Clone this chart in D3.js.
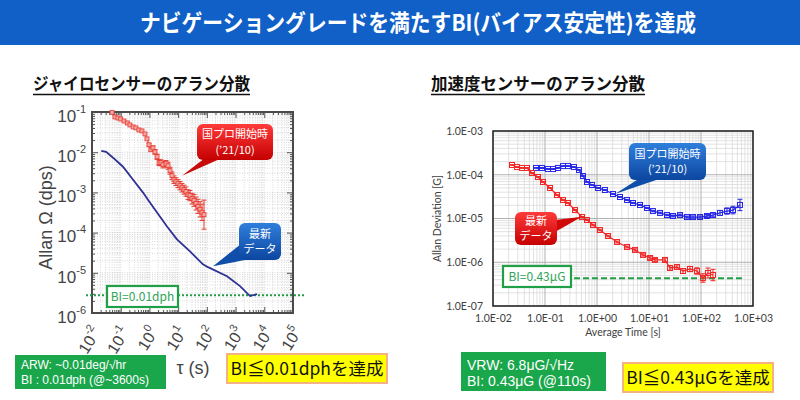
<!DOCTYPE html>
<html><head><meta charset="utf-8">
<script src="https://cdn.jsdelivr.net/npm/d3@7"></script>
<style>
body{margin:0;background:#fff;}
svg{display:block;font-family:"Noto Sans CJK JP","Noto Sans",sans-serif;}
</style></head>
<body><svg id="c" width="800" height="400"></svg>
<script>
// ---------------- DATA ----------------
const headerTitle = "ナビゲーショングレードを満たすBI(バイアス安定性)を達成";
const gyroTitle = "ジャイロセンサーのアラン分散";
const accTitle = "加速度センサーのアラン分散";

// Gyro: latest data (blue line)
const gyroLatestTau = [0.021,0.031,0.054,0.12,0.27,0.60,0.89,1.84,4.1,9.1,25.9,73,110,504,1430,3190,5580];
const gyroLatestVal = [1.08e-2,1.02e-2,7.3e-3,4.35e-3,2.07e-3,9.9e-4,6.6e-4,3.16e-4,1.42e-4,6.8e-5,3.4e-5,1.63e-5,1.38e-5,8.2e-6,4.66e-6,2.64e-6,2.95e-6];
// Gyro: project start '21/10 (red markers)
const gyroStartTau = [0.050,0.063,0.080,0.10,0.13,0.17,0.21,0.27,0.34,0.43,0.55,0.70,0.82,0.97,1.13,1.33,1.56,1.84,2.16,2.53,2.97,3.78,4.44,5.21,6.11,7.18,8.43,9.89,11.6,13.6,16.0,18.8,22.1,25.9,30.4,35.7,41.9,49.2,57.8,67.8,79.6];
const gyroStartVal = [0.098,0.0752,0.0710,0.0671,0.0598,0.0534,0.0477,0.0425,0.0402,0.0358,0.0339,0.0285,0.0215,0.0153,0.0115,0.0128,0.0102,0.0077,0.00547,0.00547,0.00488,0.00516,0.00461,0.00347,0.00261,0.00207,0.00185,0.00165,0.00147,0.00131,0.00117,0.00105,0.00088,0.00083,0.00070,0.00063,0.00053,0.00045,0.00038,0.00032,0.00028];
const gyroStartErr = [0.02,0.02,0.02,0.02,0.02,0.02,0.02,0.03,0.03,0.03,0.03,0.04,0.05,0.08,0.10,0.12,0.14,0.16,0.18,0.18,0.20,0.20,0.22,0.22,0.24,0.24,0.25,0.26,0.27,0.28,0.29,0.30,0.32,0.34,0.36,0.40,0.45,0.50,0.55,0.60,1.30];
const gyroBI = 2.78e-6;   // 0.01 dph in dps

// Accelerometer: latest data (red)
const accLatestTau = [0.0232,0.0290,0.0361,0.0451,0.0562,0.0733,0.0916,0.125,0.170,0.222,0.277,0.378,0.515,0.643,0.838,1.14,1.63,2.43,3.78,5.38,7.67,10.5,13.0,20.3,25.3,34.5,45.1,61.4,83.8,109,136,170];
const accLatestVal = [1.67e-4,1.50e-4,1.43e-4,1.43e-4,1.10e-4,8.89e-5,6.83e-5,4.98e-5,3.44e-5,2.65e-5,2.26e-5,1.56e-5,1.08e-5,9.24e-6,7.10e-6,5.46e-6,3.98e-6,2.90e-6,2.23e-6,1.91e-6,1.47e-6,1.25e-6,1.13e-6,1.13e-6,7.39e-7,7.78e-7,6.31e-7,7.01e-7,6.31e-7,4.37e-7,5.68e-7,5.11e-7];
const accLatestErr = [0.02,0.02,0.02,0.02,0.02,0.02,0.02,0.02,0.02,0.03,0.03,0.03,0.03,0.03,0.04,0.04,0.04,0.05,0.05,0.06,0.06,0.07,0.08,0.10,0.12,0.12,0.14,0.15,0.18,0.25,0.30,0.35];
// Accelerometer: project start '21/10 (blue)
const accStartTau = [0.0671,0.0875,0.114,0.143,0.178,0.222,0.277,0.361,0.451,0.538,0.643,0.802,1.05,1.42,2.03,2.77,3.78,4.92,6.71,9.15,11.9,16.3,22.2,28.9,39.5,53.8,70.2,95.7,130,170,232,316,412,562];
const accStartVal = [1.43e-4,1.43e-4,1.35e-4,1.35e-4,1.43e-4,1.58e-4,1.58e-4,1.50e-4,1.28e-4,9.36e-5,6.83e-5,5.83e-5,4.98e-5,4.48e-5,3.63e-5,3.10e-5,2.65e-5,2.26e-5,2.04e-5,1.74e-5,1.48e-5,1.34e-5,1.20e-5,1.14e-5,1.20e-5,1.08e-5,1.08e-5,1.08e-5,1.14e-5,1.20e-5,1.34e-5,1.48e-5,1.56e-5,2.04e-5];
const accStartErr = [0.02,0.02,0.02,0.02,0.02,0.02,0.02,0.02,0.02,0.02,0.02,0.02,0.02,0.02,0.02,0.02,0.03,0.03,0.03,0.03,0.04,0.04,0.04,0.05,0.05,0.05,0.06,0.06,0.08,0.10,0.14,0.18,0.22,0.35];
const accBI = 4.3e-7;

const gyroXTicks = [1e-2,1e-1,1e0,1e1,1e2,1e3,1e4,1e5];
const gyroYTicks = [1e-6,1e-5,1e-4,1e-3,1e-2,1e-1];
const accXTicks = [1e-2,1e-1,1e0,1e1,1e2,1e3];
const accYTicks = [1e-7,1e-6,1e-5,1e-4,1e-3];

const gyroInfo = ["ARW: ~0.01deg/√hr","BI : 0.01dph (@~3600s)"];
const gyroGoal = "BI≦0.01dphを達成";
const accInfo = ["VRW: 6.8μG/√Hz","BI: 0.43μG (@110s)"];
const accGoal = "BI≦0.43μGを達成";
const startLabel = ["国プロ開始時","(’21/10)"];
const latestLabel = ["最新","データ"];

// ---------------- HELPERS ----------------
const svg = d3.select("#c");
const defs = svg.append("defs");
function grad(id, c1, c2){
  const g = defs.append("linearGradient").attr("id",id).attr("x1",0).attr("y1",0).attr("x2",0).attr("y2",1);
  g.append("stop").attr("offset","0%").attr("stop-color",c1);
  g.append("stop").attr("offset","100%").attr("stop-color",c2);
}
grad("gRed","#ff3a3a","#c40000");
grad("gBlue","#2f7fdc","#0c46a0");

function minors(lo, hi){
  const out=[];
  for(let e=lo;e<hi;e++) for(let k=2;k<=9;k++) out.push(k*Math.pow(10,e));
  return out;
}
function zip(t,v,e){ return t.map((d,i)=>({t:d,v:v[i],e:e?e[i]:0})); }

function callout(g, box, b1, b2, tip, fill, tailColor, lines, fs){
  g.append("path").attr("d",`M${b1[0]},${b1[1]}L${tip[0]},${tip[1]}L${b2[0]},${b2[1]}Z`).attr("fill",tailColor);
  g.append("rect").attr("x",box[0]).attr("y",box[1]).attr("width",box[2]).attr("height",box[3])
    .attr("rx",6).attr("fill",`url(#${fill})`);
  const cx = box[0]+box[2]/2, lh = fs*1.4;
  const y0 = box[1]+box[3]/2 - (lines.length-1)*lh/2 + fs*0.36;
  lines.forEach((s,i)=>g.append("text").attr("x",cx).attr("y",y0+i*lh).attr("text-anchor","middle")
    .attr("fill","#fff").attr("font-size",fs).text(s));
}

// ---------------- HEADER ----------------
svg.append("rect").attr("x",0).attr("y",0).attr("width",800).attr("height",45).attr("fill","#1060c8");
svg.append("text").attr("x",418).attr("y",31).attr("text-anchor","middle").attr("fill","#fff")
  .attr("font-size",23).attr("font-weight","bold").attr("textLength",556).attr("lengthAdjust","spacingAndGlyphs")
  .text(headerTitle);

function sectionTitle(x, w, s){
  svg.append("text").attr("x",x).attr("y",90).attr("font-size",17).attr("font-weight","bold").attr("fill","#111")
    .attr("textLength",w).attr("lengthAdjust","spacingAndGlyphs").text(s);
  svg.append("line").attr("x1",x).attr("x2",x+w).attr("y1",94.5).attr("y2",94.5).attr("stroke","#111").attr("stroke-width",1.3);
}
sectionTitle(33,217,gyroTitle);
sectionTitle(431,214,accTitle);

// ---------------- GYRO CHART ----------------
{
  const L=92,R=293,T=112,B=313;
  const x = d3.scaleLog().domain([1e-2,1e5]).range([L,R]);
  const y = d3.scaleLog().domain([1e-6,1e-1]).range([B,T]);
  const g = svg.append("g");
  const mx = minors(-2,5), my = minors(-6,-1);
  g.append("g").selectAll("line").data(mx.concat(gyroXTicks)).join("line")
    .attr("x1",d=>x(d)).attr("x2",d=>x(d)).attr("y1",T).attr("y2",B)
    .attr("stroke","#c8c8c8").attr("stroke-width",0.7).attr("stroke-dasharray","1,1.5");
  g.append("g").selectAll("line").data(my.concat(gyroYTicks)).join("line")
    .attr("y1",d=>y(d)).attr("y2",d=>y(d)).attr("x1",L).attr("x2",R)
    .attr("stroke","#c8c8c8").attr("stroke-width",0.7).attr("stroke-dasharray","1,1.5");

  const tickStyle = sel=>{ sel.select(".domain").remove(); sel.selectAll("line").attr("stroke","#555"); };
  g.append("g").attr("transform",`translate(${L},0)`).call(d3.axisLeft(y).tickValues(my).tickSize(-3).tickFormat("")).call(tickStyle);
  g.append("g").attr("transform",`translate(${R},0)`).call(d3.axisRight(y).tickValues(my).tickSize(-3).tickFormat("")).call(tickStyle);
  g.append("g").attr("transform",`translate(0,${B})`).call(d3.axisBottom(x).tickValues(mx).tickSize(-3).tickFormat("")).call(tickStyle);
  g.append("g").attr("transform",`translate(0,${T})`).call(d3.axisTop(x).tickValues(mx).tickSize(-3).tickFormat("")).call(tickStyle);
  g.append("g").attr("transform",`translate(${R},0)`).call(d3.axisRight(y).tickValues(gyroYTicks).tickSize(-6).tickFormat("")).call(tickStyle);
  g.append("g").attr("transform",`translate(0,${T})`).call(d3.axisTop(x).tickValues(gyroXTicks).tickSize(-6).tickFormat("")).call(tickStyle);
  const ya = g.append("g").attr("transform",`translate(${L},0)`)
    .call(d3.axisLeft(y).tickValues(gyroYTicks).tickSize(-6).tickPadding(6).tickFormat(()=>"10")).call(tickStyle);
  ya.selectAll(".tick text").attr("font-family","Liberation Sans, Arial, sans-serif").attr("font-size",17).attr("fill","#444").attr("dy","0.55em")
    .append("tspan").attr("dy",-9).attr("font-size",11).text(d=>Math.round(Math.log10(d)));
  const xa = g.append("g").attr("transform",`translate(0,${B})`)
    .call(d3.axisBottom(x).tickValues(gyroXTicks).tickSize(-6).tickFormat(()=>"10")).call(tickStyle);
  xa.selectAll(".tick text").attr("font-family","Liberation Sans, Arial, sans-serif").attr("font-size",16).attr("fill","#444")
    .attr("x",0).attr("y",0).attr("dy","0.3em").attr("text-anchor","end").attr("transform","translate(5,16) rotate(-58)")
    .append("tspan").attr("dy",-8).attr("font-size",11).text(d=>Math.round(Math.log10(d)));
  g.append("rect").attr("x",L).attr("y",T).attr("width",R-L).attr("height",B-T).attr("fill","none").attr("stroke","#4a4a4a").attr("stroke-width",2);

  g.append("text").attr("transform",`translate(52,${(T+B)/2+5}) rotate(-90)`).attr("text-anchor","middle")
    .attr("font-family","Liberation Sans, Arial, sans-serif").attr("font-size",18).attr("fill","#444").text("Allan Ω (dps)");
  g.append("text").attr("x",193).attr("y",374).attr("text-anchor","middle")
    .attr("font-family","Liberation Sans, Arial, sans-serif").attr("font-size",18).attr("fill","#444").text("τ (s)");

  g.append("line").attr("x1",86).attr("x2",305).attr("y1",y(gyroBI)).attr("y2",y(gyroBI))
    .attr("stroke","#1fa046").attr("stroke-width",2).attr("stroke-dasharray","2,2");
  g.append("rect").attr("x",107).attr("y",286).attr("width",71).attr("height",21).attr("fill","#fff").attr("stroke","#1fa046").attr("stroke-width",2.2);
  g.append("text").attr("x",142.5).attr("y",301).attr("text-anchor","middle").attr("font-size",12).attr("fill","#2ea456").text("BI=0.01dph");

  const red = zip(gyroStartTau,gyroStartVal,gyroStartErr);
  const line = d3.line().x(d=>x(d.t)).y(d=>y(d.v));
  g.append("path").attr("d",line(red)).attr("fill","none").attr("stroke","#e53a30").attr("stroke-width",1);
  const eb = g.append("g").attr("stroke","#e53a30").attr("stroke-width",1);
  red.filter(d=>d.e>0.05).forEach(d=>{
    const y1=y(d.v*(1+d.e)), y2=y(d.v/(1+d.e)), xx=x(d.t);
    eb.append("line").attr("x1",xx).attr("x2",xx).attr("y1",y1).attr("y2",y2);
    eb.append("line").attr("x1",xx-2.5).attr("x2",xx+2.5).attr("y1",y1).attr("y2",y1);
    eb.append("line").attr("x1",xx-2.5).attr("x2",xx+2.5).attr("y1",y2).attr("y2",y2);
  });
  g.append("g").selectAll("rect").data(red).join("rect")
    .attr("x",d=>x(d.t)-2).attr("y",d=>y(d.v)-2).attr("width",4).attr("height",4)
    .attr("fill","#f6a5a0").attr("stroke","#e53a30").attr("stroke-width",0.8);

  const blue = zip(gyroLatestTau,gyroLatestVal);
  g.append("path").attr("d",line(blue)).attr("fill","none").attr("stroke","#2e3192").attr("stroke-width",1.8);

  callout(g,[197,124,76,36],[205,158],[222,158],[x(13.6),y(2.6e-3)],"gRed","#c80a0a",startLabel,11);
  callout(g,[239,223,42,37],[241,244],[250,259],[x(164),y(1.46e-5)],"gBlue","#0f4eaa",latestLabel,11);

  g.append("rect").attr("x",15).attr("y",355).attr("width",151).attr("height",34).attr("fill","#1aa64b");
  gyroInfo.forEach((s,i)=>g.append("text").attr("x",21).attr("y",369+i*14.5).attr("font-family","Liberation Sans, Arial, sans-serif")
    .attr("font-size",12).attr("fill","#fff").text(s));
  g.append("rect").attr("x",227).attr("y",354).attr("width",160).attr("height",29).attr("fill","#ffff00").attr("stroke","#f4b183").attr("stroke-width",2);
  g.append("text").attr("x",307).attr("y",375).attr("text-anchor","middle").attr("font-size",17.5).attr("fill","#111").text(gyroGoal);
}

// ---------------- ACCEL CHART ----------------
{
  const L=493,R=753,T=131,B=306;
  const x = d3.scaleLog().domain([1e-2,1e3]).range([L,R]);
  const y = d3.scaleLog().domain([1e-7,1e-3]).range([B,T]);
  const g = svg.append("g");
  const mx = minors(-2,3), my = minors(-7,-3);
  g.append("rect").attr("x",L).attr("y",T).attr("width",R-L).attr("height",B-T).attr("fill","#fff");
  g.append("g").selectAll("line").data(mx).join("line")
    .attr("x1",d=>x(d)).attr("x2",d=>x(d)).attr("y1",T).attr("y2",B).attr("stroke","#dadada").attr("stroke-width",0.8);
  g.append("g").selectAll("line").data(my).join("line")
    .attr("y1",d=>y(d)).attr("y2",d=>y(d)).attr("x1",L).attr("x2",R).attr("stroke","#dadada").attr("stroke-width",0.8);
  g.append("g").selectAll("line").data(accXTicks).join("line")
    .attr("x1",d=>x(d)).attr("x2",d=>x(d)).attr("y1",T).attr("y2",B).attr("stroke","#a8a8a8").attr("stroke-width",0.9);
  g.append("g").selectAll("line").data(accYTicks).join("line")
    .attr("y1",d=>y(d)).attr("y2",d=>y(d)).attr("x1",L).attr("x2",R).attr("stroke","#a8a8a8").attr("stroke-width",0.9);

  const fmt = d=>{ const e=Math.round(Math.log10(d)); return "1.0E"+(e<0?"-":"+")+String(Math.abs(e)).padStart(2,"0"); };
  const ya = g.append("g").attr("transform",`translate(${L},0)`).call(d3.axisLeft(y).tickValues(accYTicks).tickSize(0).tickPadding(10).tickFormat(fmt));
  const xa = g.append("g").attr("transform",`translate(0,${B})`).call(d3.axisBottom(x).tickValues(accXTicks).tickSize(0).tickPadding(9).tickFormat(fmt));
  [ya,xa].forEach(a=>{ a.select(".domain").remove();
    a.selectAll("text").attr("font-family","Lato, Open Sans, sans-serif").attr("font-size",10.5).attr("fill","#404040"); });
  g.append("rect").attr("x",L).attr("y",T).attr("width",R-L).attr("height",B-T).attr("fill","none").attr("stroke","#222").attr("stroke-width",1.5);
  g.append("text").attr("x",623).attr("y",336).attr("text-anchor","middle").attr("font-family","Lato, Open Sans, sans-serif")
    .attr("font-size",10.5).attr("fill","#404040").text("Average Time [s]");
  g.append("text").attr("transform",`translate(441,${(T+B)/2}) rotate(-90)`).attr("text-anchor","middle").attr("font-family","Lato, Open Sans, sans-serif")
    .attr("font-size",10.5).attr("fill","#404040").text("Allan Deviation [G]");

  g.append("line").attr("x1",502).attr("x2",742).attr("y1",y(accBI)).attr("y2",y(accBI))
    .attr("stroke","#1fa046").attr("stroke-width",2).attr("stroke-dasharray","6,3");

  const line = d3.line().x(d=>x(d.t)).y(d=>y(d.v));
  function series(data, color){
    g.append("path").attr("d",line(data)).attr("fill","none").attr("stroke",color).attr("stroke-width",1.3);
    const eb = g.append("g").attr("stroke",color).attr("stroke-width",1);
    data.forEach(d=>{
      const y1=y(d.v*(1+d.e)), y2=y(d.v/(1+d.e)), xx=x(d.t);
      eb.append("line").attr("x1",xx).attr("x2",xx).attr("y1",y1).attr("y2",y2);
      eb.append("line").attr("x1",xx-2.5).attr("x2",xx+2.5).attr("y1",y1).attr("y2",y1);
      eb.append("line").attr("x1",xx-2.5).attr("x2",xx+2.5).attr("y1",y2).attr("y2",y2);
    });
    g.append("g").selectAll("rect").data(data).join("rect")
      .attr("x",d=>x(d.t)-2.5).attr("y",d=>y(d.v)-2.5).attr("width",5).attr("height",5)
      .attr("fill","none").attr("stroke",color).attr("stroke-width",1);
  }
  series(zip(accStartTau,accStartVal,accStartErr),"#2626e6");
  series(zip(accLatestTau,accLatestVal,accLatestErr),"#f02626");

  g.append("rect").attr("x",503).attr("y",266).attr("width",68).attr("height",21).attr("fill","#fff").attr("stroke","#1fa046").attr("stroke-width",2.2);
  g.append("text").attr("x",537).attr("y",281).attr("text-anchor","middle").attr("font-size",12).attr("fill","#2ea456").text("BI=0.43μG");

  callout(g,[629,143,77,37],[640,178],[662,178],[x(2.22),y(3.63e-5)],"gBlue","#0f4eaa",startLabel,11);
  callout(g,[515,212,42,33],[555,220],[555,232],[x(0.51),y(1.1e-5)],"gRed","#d00808",latestLabel,11);

  g.append("rect").attr("x",461).attr("y",352).attr("width",145).attr("height",39).attr("fill","#1aa64b");
  accInfo.forEach((s,i)=>g.append("text").attr("x",467).attr("y",370+i*16).attr("font-family","Liberation Sans, Arial, sans-serif")
    .attr("font-size",14).attr("fill","#fff").text(s));
  g.append("rect").attr("x",623).attr("y",363).attr("width",150).attr("height",29).attr("fill","#ffff00").attr("stroke","#f4b183").attr("stroke-width",2);
  g.append("text").attr("x",698).attr("y",384).attr("text-anchor","middle").attr("font-size",17.5).attr("fill","#111").text(accGoal);
}
</script></body></html>
